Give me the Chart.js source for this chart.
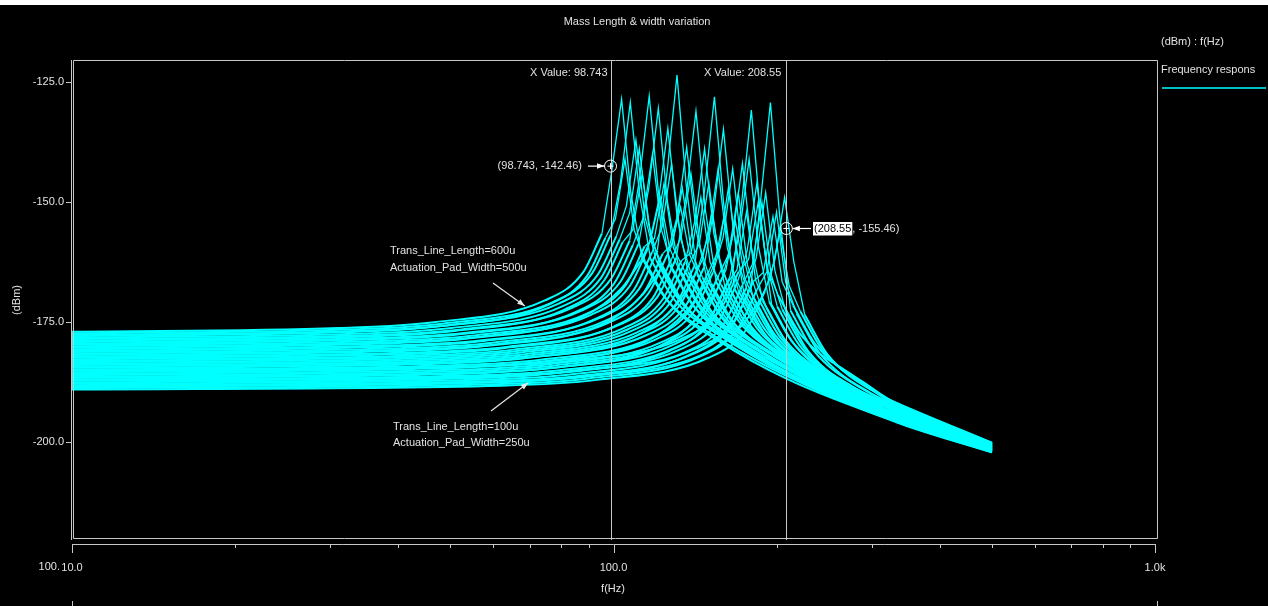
<!DOCTYPE html>
<html>
<head>
<meta charset="utf-8">
<script src="https://cdn.jsdelivr.net/npm/chart.js@4.4.1/dist/chart.umd.min.js"></script>
<style>
  html, body { margin: 0; padding: 0; background: #000; }
  #wrap { width: 1268px; height: 606px; }
</style>
</head>
<body>
<div id="wrap"><canvas id="freq-chart" width="1268" height="606"></canvas></div>
<script>
// frequency points (Hz) of each swept curve
const curveFreqs = [
    [10, 31.1, 46.6, 74.5, 88, 95.2, 99.4, 103.5, 107.6, 112.8, 124.2, 155.3, 207, 340, 500],
    [10, 32.2, 48.3, 77.3, 91.3, 98.8, 103.1, 107.4, 111.7, 117.1, 128.9, 161.1, 214.8, 340, 500],
    [10, 33, 49.5, 79.2, 93.5, 101.2, 105.6, 110, 114.4, 119.9, 132, 165, 220, 340, 500],
    [10, 31.5, 47.3, 75.6, 89.3, 96.6, 100.8, 105, 109.2, 114.5, 126, 157.5, 210, 340, 500],
    [10, 33.5, 50.2, 80.4, 94.9, 102.7, 107.1, 111.6, 116.1, 121.6, 133.9, 167.4, 223.2, 340, 500],
    [10, 34.9, 52.4, 83.8, 98.9, 107.1, 111.7, 116.4, 121.1, 126.9, 139.7, 174.6, 232.8, 340, 500],
    [10, 33.9, 50.9, 81.4, 96.1, 104, 108.5, 113, 117.5, 123.2, 135.6, 169.5, 226, 340, 500],
    [10, 36.3, 54.5, 87.1, 102.9, 111.3, 116.2, 121, 125.8, 131.9, 145.2, 181.5, 242, 340, 500],
    [10, 35.4, 53.1, 85, 100.3, 108.6, 113.3, 118, 122.7, 128.6, 141.6, 177, 236, 340, 500],
    [10, 37.2, 55.8, 89.3, 105.4, 114.1, 119, 124, 129, 135.2, 148.8, 186, 248, 340, 500],
    [10, 37.8, 56.7, 90.7, 107.1, 115.9, 121, 126, 131, 137.3, 151.2, 189, 252, 340, 500],
    [10, 36.6, 54.9, 87.8, 103.7, 112.2, 117.1, 122, 126.9, 133, 146.4, 183, 244, 340, 500],
    [10, 39.3, 59, 94.3, 111.4, 120.5, 125.8, 131, 136.2, 142.8, 157.2, 196.5, 262, 340, 500],
    [10, 38.4, 57.6, 92.2, 108.8, 117.8, 122.9, 128, 133.1, 139.5, 153.6, 192, 256, 340, 500],
    [10, 40.2, 60.3, 96.5, 113.9, 123.3, 128.6, 134, 139.4, 146.1, 160.8, 201, 268, 340, 500],
    [10, 41, 61.4, 98.3, 116, 125.6, 131, 136.5, 142, 148.8, 163.8, 204.8, 273, 340, 500],
    [10, 39.9, 59.9, 95.8, 113.1, 122.4, 127.7, 133, 138.3, 145, 159.6, 199.5, 266, 340, 500],
    [10, 42.6, 63.9, 102.2, 120.7, 130.6, 136.3, 142, 147.7, 154.8, 170.4, 213, 284, 340, 500],
    [10, 41.7, 62.6, 100.1, 118.2, 127.9, 133.4, 139, 144.6, 151.5, 166.8, 208.5, 278, 340, 500],
    [10, 43.5, 65.3, 104.4, 123.3, 133.4, 139.2, 145, 150.8, 158.1, 174, 217.5, 290, 340, 500],
    [10, 44.2, 66.3, 106.1, 125.2, 135.5, 141.4, 147.3, 153.2, 160.6, 176.8, 221, 294.6, 340, 500],
    [10, 45, 67.5, 108, 127.5, 138, 144, 150, 156, 163.5, 180, 225, 300, 340, 500],
    [10, 46.1, 69.1, 110.6, 130.6, 141.3, 147.5, 153.6, 159.7, 167.4, 184.3, 230.4, 307.2, 340, 500],
    [10, 46.8, 70.2, 112.3, 132.6, 143.5, 149.8, 156, 162.2, 170, 187.2, 234, 312, 340, 500],
    [10, 47.9, 71.8, 114.9, 135.7, 146.8, 153.2, 159.6, 166, 174, 191.5, 239.4, 319.2, 340, 500],
    [10, 45.6, 68.4, 109.4, 129.2, 139.8, 145.9, 152, 158.1, 165.7, 182.4, 228, 304, 340, 500],
    [10, 48.9, 73.4, 117.4, 138.6, 150, 156.5, 163, 169.5, 177.7, 195.6, 244.5, 340, 500],
    [10, 49.8, 74.7, 119.5, 141.1, 152.7, 159.4, 166, 172.6, 180.9, 199.2, 249, 340, 500],
    [10, 48, 72, 115.2, 136, 147.2, 153.6, 160, 166.4, 174.4, 192, 240, 340, 500],
    [10, 51, 76.5, 122.4, 144.5, 156.4, 163.2, 170, 176.8, 185.3, 204, 255, 340, 500],
    [10, 51.9, 77.9, 124.6, 147.1, 159.2, 166.1, 173, 179.9, 188.6, 207.6, 259.5, 340, 500],
    [10, 53.4, 80.1, 128.2, 151.3, 163.8, 170.9, 178, 185.1, 194, 213.6, 267, 340, 500],
    [10, 50.4, 75.6, 121, 142.8, 154.6, 161.3, 168, 174.7, 183.1, 201.6, 252, 340, 500],
    [10, 53.9, 80.9, 129.4, 152.7, 165.3, 172.5, 179.7, 186.9, 195.9, 215.6, 269.6, 340, 500],
    [10, 55.2, 82.8, 132.5, 156.4, 169.3, 176.6, 184, 191.4, 200.6, 220.8, 276, 340, 500],
    [10, 52.8, 79.2, 126.7, 149.6, 161.9, 169, 176, 183, 191.8, 211.2, 264, 340, 500],
    [10, 56.4, 84.6, 135.4, 159.8, 173, 180.5, 188, 195.5, 204.9, 225.6, 282, 340, 500],
    [10, 58.5, 87.7, 140.3, 165.7, 179.3, 187.1, 194.9, 202.7, 212.4, 233.9, 292.4, 340, 500],
    [10, 57.3, 86, 137.5, 162.4, 175.7, 183.4, 191, 198.6, 208.2, 229.2, 286.5, 340, 500],
    [10, 60, 90, 144, 170, 184, 192, 200, 208, 218, 240, 300, 340, 500],
    [10, 62.1, 93.2, 149, 176, 190.4, 198.7, 207, 215.3, 225.6, 248.4, 310.5, 340, 500],
    [10, 60.9, 91.4, 146.2, 172.6, 186.8, 194.9, 203, 211.1, 221.3, 243.6, 304.5, 340, 500],
    [10, 59.1, 88.7, 141.8, 167.5, 181.2, 189.1, 197, 204.9, 214.7, 236.4, 295.5, 340, 500],
    [10, 55.5, 83.3, 133.2, 157.3, 170.2, 177.6, 185, 192.4, 201.7, 222, 277.5, 340, 500]
];

// levels (dBm) matching the points above
const curveLevels = [
    [-177, -176.2, -175, -170.5, -164.5, -156.5, -143, -128.5, -147.9, -161.5, -169.7, -178.2, -186, -196.2, -202.1],
    [-177.3, -176.5, -175.3, -170.8, -164.8, -156.8, -145.6, -129.2, -148.4, -161.8, -170, -178.5, -186.3, -196, -202],
    [-177.6, -176.8, -175.6, -171.1, -165.1, -157.1, -150.8, -137, -153.2, -162.1, -170.3, -178.8, -186.6, -195.9, -202],
    [-177.9, -177.1, -175.9, -171.4, -165.4, -157.4, -153.5, -141, -155.8, -162.4, -170.6, -179.1, -186.9, -196.1, -202.1],
    [-178.2, -177.4, -176.2, -171.7, -165.7, -157.7, -152.2, -138.8, -154.6, -162.7, -170.9, -179.4, -187.2, -195.9, -201.9],
    [-178.5, -177.7, -176.5, -172, -166, -158, -145.1, -127.9, -148.1, -163, -171.2, -179.7, -187.5, -195.7, -201.8],
    [-178.8, -178, -176.8, -172.3, -166.3, -158.3, -155.8, -144, -157.9, -163.3, -171.5, -180, -187.8, -195.8, -201.9],
    [-179.1, -178.3, -177.1, -172.6, -166.6, -158.6, -147, -130.4, -149.9, -163.6, -171.8, -180.3, -188.1, -195.5, -201.8],
    [-179.4, -178.6, -177.4, -172.9, -166.9, -158.9, -153.4, -140, -155.8, -163.9, -172.1, -180.6, -188.4, -195.6, -201.8],
    [-179.7, -178.9, -177.7, -173.2, -167.2, -159.2, -157.5, -146, -159.5, -164.2, -172.4, -180.9, -188.7, -195.4, -201.7],
    [-180, -179.2, -178, -173.5, -167.5, -159.5, -150, -134.6, -152.8, -164.5, -172.7, -181.2, -189, -195.3, -201.7],
    [-180.3, -179.5, -178.3, -173.8, -167.8, -162.3, -157.8, -149, -159.5, -164.8, -173, -181.5, -189.3, -195.5, -201.7],
    [-180.6, -179.8, -178.6, -174.1, -168.1, -160.1, -142.9, -123.5, -146.3, -165.1, -173.3, -181.8, -189.6, -195.1, -201.6],
    [-180.9, -180.1, -178.9, -174.4, -168.4, -160.4, -155.2, -142, -157.6, -165.4, -173.6, -182.1, -189.9, -195.2, -201.6],
    [-181.2, -180.4, -179.2, -174.7, -168.7, -160.7, -158.6, -147, -160.7, -165.7, -173.9, -182.4, -190.2, -195, -201.5],
    [-181.5, -180.7, -179.5, -175, -169, -161, -153.1, -138.5, -155.7, -166, -174.2, -182.7, -190.5, -194.9, -201.5],
    [-181.8, -181, -179.8, -175.3, -169.3, -163.8, -159.3, -151, -161, -166.3, -174.5, -183, -190.8, -195.1, -201.5],
    [-182.1, -181.3, -180.1, -175.6, -169.6, -161.6, -148.4, -131, -151.4, -166.6, -174.8, -183.3, -191.1, -194.7, -201.4],
    [-182.4, -181.6, -180.4, -175.9, -169.9, -161.9, -157.1, -144, -159.4, -166.9, -175.1, -183.6, -191.4, -194.8, -201.4],
    [-182.7, -181.9, -180.7, -176.2, -170.2, -162.2, -160.5, -149, -162.5, -167.2, -175.4, -183.9, -191.7, -194.6, -201.3],
    [-183, -182.2, -181, -176.5, -170.5, -162.5, -153.8, -138.8, -156.5, -167.5, -175.7, -184.2, -192, -194.5, -201.3],
    [-183.3, -182.5, -181.3, -176.8, -170.8, -162.8, -158.7, -146, -160.9, -167.8, -176, -184.5, -192.3, -194.4, -201.2],
    [-183.6, -182.8, -181.6, -177.1, -171.1, -163.1, -146.9, -128, -150.2, -168.1, -176.3, -184.8, -192.6, -194.3, -201.1],
    [-183.9, -183.1, -181.9, -177.4, -171.4, -163.4, -156.9, -143, -159.4, -168.4, -176.6, -185.1, -192.9, -194.2, -201.1],
    [-184.2, -183.4, -182.2, -177.7, -171.7, -163.7, -151.6, -134.8, -154.6, -168.7, -176.9, -185.4, -193.2, -194, -201],
    [-184.5, -183.7, -182.5, -178, -172, -166.5, -162, -152, -163.7, -169, -177.2, -185.7, -193.5, -194.3, -201.2],
    [-184.8, -184, -182.8, -178.3, -172.3, -164.3, -159.9, -147, -162.1, -169.3, -177.5, -186, -193.9, -201],
    [-185.1, -184.3, -183.1, -178.6, -172.6, -164.6, -157.3, -143, -159.8, -169.6, -177.8, -186.3, -193.8, -200.9],
    [-185.4, -184.6, -183.4, -178.9, -172.9, -167.4, -162.9, -153, -164.6, -169.9, -178.1, -186.6, -194, -201],
    [-185.7, -184.9, -183.7, -179.2, -173.2, -165.2, -160.8, -148, -163.1, -170.2, -178.4, -186.9, -193.6, -200.8],
    [-186, -185.2, -184, -179.5, -173.5, -165.5, -156.9, -141.9, -159.5, -170.5, -178.7, -187.2, -193.5, -200.8],
    [-186.3, -185.5, -184.3, -179.8, -173.8, -165.8, -156.4, -141, -159.1, -170.8, -179, -187.5, -193.3, -200.7],
    [-186.6, -185.8, -184.6, -180.1, -174.1, -168.6, -164.1, -154, -165.8, -171.1, -179.3, -187.8, -193.7, -200.9],
    [-186.9, -186.1, -184.9, -180.4, -174.4, -166.4, -149.9, -130.8, -153.2, -171.4, -179.6, -188.1, -193.3, -200.6],
    [-187.2, -186.4, -185.2, -180.7, -174.7, -166.7, -160, -146, -162.5, -171.7, -179.9, -188.4, -193.1, -200.5],
    [-187.5, -186.7, -185.5, -181, -175, -167, -164.1, -152, -166.2, -172, -180.2, -188.7, -193.4, -200.7],
    [-187.8, -187, -185.8, -181.3, -175.3, -167.3, -162.9, -150, -165.1, -172.3, -180.5, -189, -192.9, -200.5],
    [-188.1, -187.3, -186.1, -181.6, -175.6, -167.6, -149.2, -129.2, -152.8, -172.6, -180.8, -189.3, -192.7, -200.3],
    [-188.4, -187.6, -186.4, -181.9, -175.9, -167.9, -161.7, -148, -164.2, -172.9, -181.1, -189.6, -192.8, -200.4],
    [-188.7, -187.9, -186.7, -182.2, -176.2, -168.2, -164.5, -152, -166.7, -173.2, -181.4, -189.9, -192.5, -200.2],
    [-189, -188.2, -187, -182.5, -176.5, -168.5, -161.9, -149, -162.4, -173.5, -181.7, -190.2, -192.2, -200.1],
    [-188.2, -187.4, -186.2, -181.7, -175.7, -170.2, -165.7, -156, -167.4, -172.7, -180.9, -189.4, -192.4, -200.2],
    [-187, -186.2, -185, -180.5, -174.5, -166.5, -164.6, -153, -166.6, -171.5, -179.7, -188.2, -192.6, -200.3],
    [-185, -184.2, -183, -178.5, -172.5, -164.5, -161.9, -150, -164, -169.5, -177.7, -186.2, -193, -200.5]
];

const xTickValues = [10, 100, 1000];
const xTickLabels = ['10.0', '100.0', '1.0k'];
const xMinorTicks = [20, 30, 40, 50, 60, 70, 80, 90, 200, 300, 400, 500, 600, 700, 800, 900];
const yTickValues = [-200, -175, -150, -125];

const markerFreqs = [98.743, 208.55];
const markerLevels = [-142.46, -155.46];

// where the two parameter notes point to (Hz, dBm)
const noteTipFreqs = [68.6, 69.6];
const noteTipLevels = [-171.6, -187.6];

const CYAN = '#00ffff';
const GREY = '#c8c8c8';
const TEXT = '#e2e2e2';
const FONT = '11px "Liberation Sans", Arial, sans-serif';

// each curve is drawn in three pieces: smooth rise, sharp resonance spike, smooth roll-off
function buildDatasets() {
    const sets = [];
    curveFreqs.forEach((freqs, i) => {
        const pts = freqs.map((f, j) => ({ x: f, y: curveLevels[i][j] }));
        const pieces = [
            { data: pts.slice(0, 6), smooth: true },
            { data: pts.slice(5, 10), smooth: false },
            { data: pts.slice(9), smooth: true }
        ];
        pieces.forEach(p => {
            sets.push({
                label: 'Frequency respons',
                data: p.data,
                borderColor: CYAN,
                borderWidth: p.smooth ? 2 : 1.3,
                pointRadius: 0,
                fill: false,
                tension: 0,
                cubicInterpolationMode: p.smooth ? 'monotone' : 'default'
            });
        });
    });
    return sets;
}

function drawArrow(ctx, x1, y1, x2, y2) {
    const ang = Math.atan2(y2 - y1, x2 - x1);
    ctx.beginPath();
    ctx.moveTo(x1, y1);
    ctx.lineTo(x2, y2);
    ctx.stroke();
    ctx.beginPath();
    ctx.moveTo(x2, y2);
    ctx.lineTo(x2 - 8 * Math.cos(ang - 0.35), y2 - 8 * Math.sin(ang - 0.35));
    ctx.lineTo(x2 - 8 * Math.cos(ang + 0.35), y2 - 8 * Math.sin(ang + 0.35));
    ctx.closePath();
    ctx.fill();
}

function drawMarkerCircle(ctx, x, y) {
    ctx.beginPath();
    ctx.arc(x, y, 6, 0, Math.PI * 2);
    ctx.stroke();
    ctx.beginPath();
    ctx.moveTo(x - 3, y); ctx.lineTo(x + 3, y);
    ctx.moveTo(x, y - 3); ctx.lineTo(x, y + 3);
    ctx.stroke();
}

const extrasPlugin = {
    id: 'extras',
    beforeDraw(chart) {
        const ctx = chart.ctx;
        ctx.save();
        ctx.fillStyle = '#000';
        ctx.fillRect(0, 0, chart.width, chart.height);
        ctx.fillStyle = '#fff';
        ctx.fillRect(0, 0, chart.width, 5);
        ctx.restore();
    },
    afterDatasetsDraw(chart) {
        const ctx = chart.ctx;
        const xs = chart.scales.x;
        const ys = chart.scales.y;
        const area = chart.chartArea;
        ctx.save();
        ctx.strokeStyle = GREY;
        ctx.lineWidth = 1;
        markerFreqs.forEach(f => {
            const px = Math.round(xs.getPixelForValue(f)) + 0.5;
            ctx.beginPath();
            ctx.moveTo(px, area.top);
            ctx.lineTo(px, 540);
            ctx.stroke();
        });

        ctx.strokeStyle = '#ffffff';
        markerFreqs.forEach((f, i) => {
            drawMarkerCircle(ctx, xs.getPixelForValue(f), ys.getPixelForValue(markerLevels[i]));
        });
        ctx.restore();
    },
    afterDraw(chart) {
        const ctx = chart.ctx;
        const xs = chart.scales.x;
        const ys = chart.scales.y;
        const area = chart.chartArea;
        ctx.save();

        // frame and axes
        ctx.strokeStyle = GREY;
        ctx.lineWidth = 1;
        ctx.beginPath();
        ctx.moveTo(71.5, 60); ctx.lineTo(71.5, 540);
        ctx.moveTo(73.5, 60.5); ctx.lineTo(1157.5, 60.5);
        ctx.lineTo(1157.5, 538.5); ctx.lineTo(73.5, 538.5); ctx.lineTo(73.5, 60.5);
        ctx.moveTo(area.left, 544.5); ctx.lineTo(area.right, 544.5);
        ctx.stroke();

        ctx.beginPath();
        xTickValues.forEach(v => {
            const px = Math.round(xs.getPixelForValue(v)) + 0.5;
            ctx.moveTo(px, 544); ctx.lineTo(px, 553);
        });
        xMinorTicks.forEach(v => {
            const px = Math.round(xs.getPixelForValue(v)) + 0.5;
            ctx.moveTo(px, 544); ctx.lineTo(px, 548);
        });
        yTickValues.forEach(v => {
            const py = Math.round(ys.getPixelForValue(v)) + 0.5;
            ctx.moveTo(66, py); ctx.lineTo(71, py);
        });
        ctx.moveTo(72.5, 601); ctx.lineTo(72.5, 606);
        ctx.moveTo(1157.5, 601); ctx.lineTo(1157.5, 606);
        ctx.stroke();

        // texts
        ctx.fillStyle = TEXT;
        ctx.font = FONT;
        ctx.textBaseline = 'middle';
        ctx.textAlign = 'center';
        ctx.fillText('Mass Length & width variation', 637, 22);
        ctx.fillText('f(Hz)', 613, 589);

        ctx.textAlign = 'right';
        ctx.fillText('100.', 60, 567);

        ctx.textAlign = 'left';
        ctx.fillText('(dBm) : f(Hz)', 1161, 42);
        ctx.fillText('Frequency respons', 1161, 70);
        ctx.strokeStyle = CYAN;
        ctx.lineWidth = 1.5;
        ctx.beginPath();
        ctx.moveTo(1162, 88); ctx.lineTo(1266, 88);
        ctx.stroke();

        ctx.save();
        ctx.translate(17, 300);
        ctx.rotate(-Math.PI / 2);
        ctx.textAlign = 'center';
        ctx.fillText('(dBm)', 0, 0);
        ctx.restore();

        // marker readouts
        const m0x = xs.getPixelForValue(markerFreqs[0]);
        const m0y = ys.getPixelForValue(markerLevels[0]);
        const m1x = xs.getPixelForValue(markerFreqs[1]);
        const m1y = ys.getPixelForValue(markerLevels[1]);

        ctx.textAlign = 'right';
        ctx.fillText('X Value: ' + markerFreqs[0], m0x - 3, 73);
        ctx.fillText('X Value: ' + markerFreqs[1], m1x - 5, 73);
        ctx.fillText('(' + markerFreqs[0] + ', ' + markerLevels[0] + ')', 582, m0y);

        ctx.strokeStyle = '#ffffff';
        ctx.fillStyle = '#ffffff';
        ctx.lineWidth = 1.2;
        drawArrow(ctx, 588, m0y, m0x - 6, m0y);
        drawArrow(ctx, 811, m1y, m1x + 6, m1y);

        ctx.textAlign = 'left';
        const part1 = '(' + markerFreqs[1];
        const w1 = ctx.measureText(part1).width;
        ctx.fillRect(813, m1y - 6.5, w1 + 2, 13.5);
        ctx.fillStyle = '#000';
        ctx.fillText(part1, 814, m1y);
        ctx.fillStyle = TEXT;
        ctx.fillText(', ' + markerLevels[1] + ')', 815 + w1, m1y);

        // parameter notes
        ctx.fillText('Trans_Line_Length=600u', 390, 251);
        ctx.fillText('Actuation_Pad_Width=500u', 390, 268);
        ctx.fillText('Trans_Line_Length=100u', 393, 427);
        ctx.fillText('Actuation_Pad_Width=250u', 393, 443);

        ctx.strokeStyle = '#e6e6e6';
        ctx.fillStyle = '#e6e6e6';
        ctx.lineWidth = 1.2;
        drawArrow(ctx, 493, 283, xs.getPixelForValue(noteTipFreqs[0]), ys.getPixelForValue(noteTipLevels[0]));
        drawArrow(ctx, 491, 411, xs.getPixelForValue(noteTipFreqs[1]), ys.getPixelForValue(noteTipLevels[1]));

        ctx.restore();
    }
};

function renderChart() {
    const ctx = document.getElementById('freq-chart').getContext('2d');

    new Chart(ctx, {
        type: 'line',
        data: { datasets: buildDatasets() },
        options: {
            responsive: false,
            animation: false,
            events: [],
            layout: { padding: { top: 60, right: 113, left: 0, bottom: 0 } },
            plugins: {
                legend: { display: false },
                tooltip: { enabled: false },
                title: { display: false }
            },
            scales: {
                x: {
                    type: 'logarithmic',
                    min: 10,
                    max: 1000,
                    afterFit: s => { s.height = 62; },
                    afterBuildTicks: s => { s.ticks = xTickValues.map(v => ({ value: v })); },
                    grid: { display: false, drawTicks: false },
                    border: { display: false },
                    ticks: {
                        autoSkip: false,
                        maxRotation: 0,
                        padding: 17,
                        color: TEXT,
                        font: { family: '"Liberation Sans", Arial, sans-serif', size: 11 },
                        callback: v => xTickLabels[xTickValues.indexOf(v)]
                    }
                },
                y: {
                    min: -221.2,
                    max: -120.35,
                    afterFit: s => { s.width = 72; },
                    afterBuildTicks: s => { s.ticks = yTickValues.map(v => ({ value: v })); },
                    grid: { display: false, drawTicks: false },
                    border: { display: false },
                    ticks: {
                        padding: 8,
                        color: TEXT,
                        font: { family: '"Liberation Sans", Arial, sans-serif', size: 11 },
                        callback: v => Number(v).toFixed(1)
                    }
                }
            }
        },
        plugins: [extrasPlugin]
    });
}

document.addEventListener('DOMContentLoaded', renderChart);
</script>
</body>
</html>
